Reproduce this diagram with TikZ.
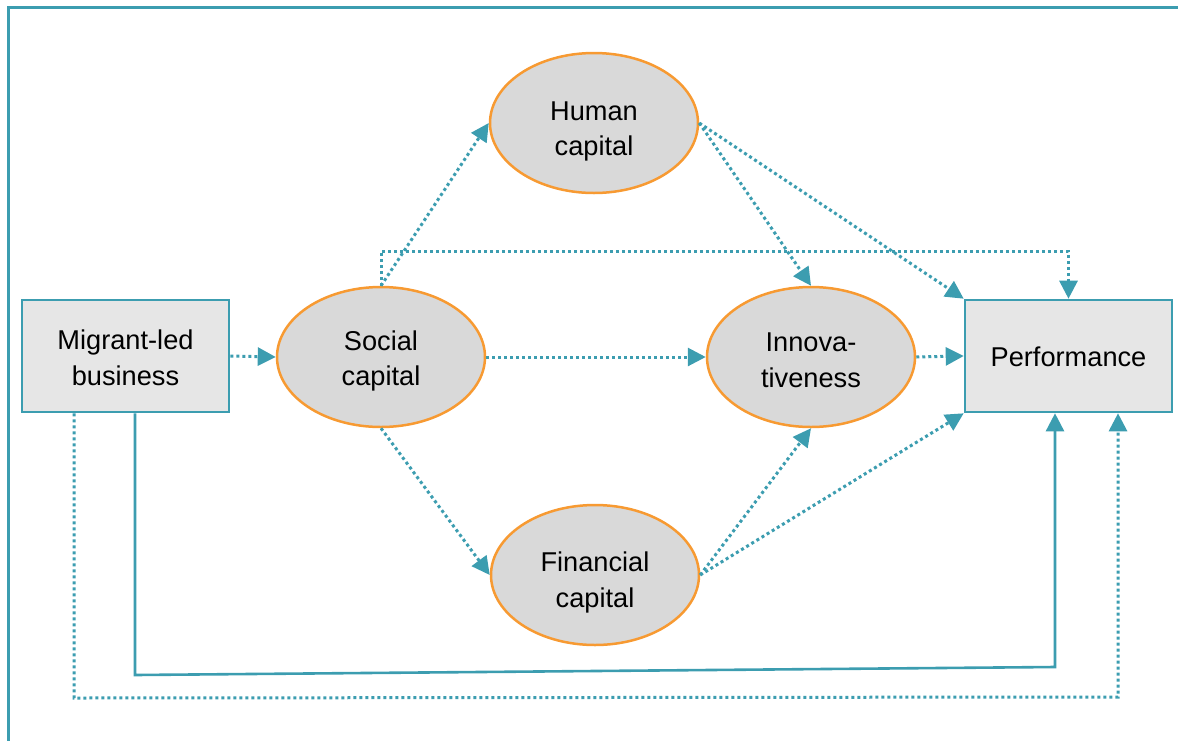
\documentclass[tikz,border=0pt]{standalone}
\usepackage{fontspec}
\setmainfont{Liberation Sans}
\usetikzlibrary{arrows.meta,shapes.geometric}
\definecolor{teal1}{RGB}{60,157,176}
\definecolor{orng}{RGB}{247,154,50}
\definecolor{ellfill}{RGB}{217,217,217}
\definecolor{boxfill}{RGB}{230,230,230}
\begin{document}
\begin{tikzpicture}[x=0.5pt,y=-0.5pt,
  lbl/.style={font=\fontsize{13.6}{17.8}\selectfont, align=center, text=black, inner sep=0pt},
  ell/.style={ellipse, draw=orng, line width=1.25pt, fill=ellfill, minimum width=104pt, minimum height=70pt, inner sep=0pt},
  rbox/.style={rectangle, draw=teal1, line width=1.3pt, fill=boxfill, minimum width=103.5pt, minimum height=56pt, inner sep=0pt},
  txt/.style 2 args={label={[lbl, yshift=#1]center:{#2}}},
  tip/.style={-{Triangle[length=9pt,width=9pt]}},
  dotarrow/.style={draw=teal1, line width=1.5pt, dash pattern=on 1.5pt off 1.5pt, tip},
  solidarrow/.style={draw=teal1, line width=1.3pt, tip}
]
\useasboundingbox (0,0) rectangle (1178,740);
\begin{scope}
\clip (0,0) rectangle (1178,740);
\draw[teal1, line width=1.5pt] (8,760) -- (8,7) -- (1200,7);
\end{scope}

\node[rbox, txt={-1pt}{Migrant-led\\business}] (mig) at (125.5,356) {};
\node[rbox, txt={-0.6pt}{Performance}] (perf) at (1068.5,356) {};
\node[ell, txt={-2pt}{Social\\capital}] (soc) at (381,357) {};
\node[ell, txt={-4.2pt}{Human\\capital}] (hum) at (594,123) {};
\node[ell, txt={-1.6pt}{Innova-\\tiveness}] (inn) at (811,357) {};
\node[ell, txt={-3.8pt}{Financial\\capital}] (fin) at (595,575) {};

\coordinate (s1) at (135,675);
\coordinate (s2) at (1055,667);
\coordinate (d1) at (74,698);
\coordinate (d2) at (1118,697);
\coordinate (t1) at (381,251);

\draw[dotarrow] (mig.east) -- (soc.west);
\draw[dotarrow] (soc.east) -- (inn.west);
\draw[dotarrow] (inn.east) -- (perf.west);
\draw[dotarrow] (soc.north) -- (hum.west);
\draw[dotarrow] (soc.south) -- (fin.west);
\draw[dotarrow] (soc.north) -- (t1) -| (perf.north);
\draw[dotarrow] (hum.east) -- (inn.north);
\draw[dotarrow] (hum.east) -- (perf.north west);
\draw[dotarrow] (fin.east) -- (inn.south);
\draw[dotarrow] (fin.east) -- (perf.south west);
\draw[solidarrow] (mig.south -| s1) -- (s1) -- (s2) -- (perf.south -| s2);
\draw[dotarrow] (mig.south -| d1) -- (d1) -- (d2) -- (perf.south -| d2);
\end{tikzpicture}
\end{document}
